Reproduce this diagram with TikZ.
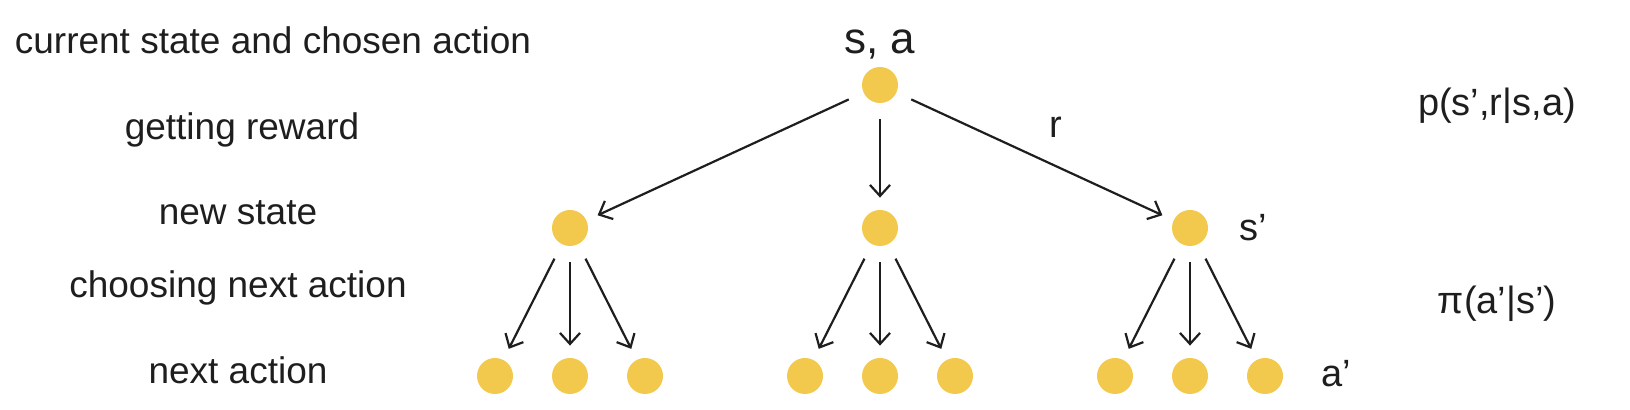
\documentclass[tikz,border=0pt]{standalone}
\usepackage{fontspec}
\setmainfont{Liberation Sans}
\usetikzlibrary{positioning, arrows.meta}
\definecolor{dotfill}{HTML}{F2C94C}
\definecolor{ink}{HTML}{1E1E1E}

\begin{document}
\begin{tikzpicture}[x=0.5pt, y=-0.5pt,
  every node/.style={font=\fontsize{19}{22}\selectfont, text=ink},
  dot/.style={circle, fill=dotfill, minimum size=18pt, inner sep=0pt},
  link/.style={draw=ink, line width=1.1pt, -{Straight Barb[length=5.5pt,width=10pt]}, shorten <=8pt, shorten >=6pt},
  side/.style={font=\fontsize{18.5}{22}\selectfont}]
  \useasboundingbox (0,0) rectangle (1630,410);

  % left column
  \node[side] (lcur) at (273,40) {current state and chosen action};
  \node[side] (lrew) at (242,130) {getting reward};
  \node[side] (lnew) at (238,213) {new state};
  \node[side] (lcho) at (238,288) {choosing next action};
  \node[side] (lnext) at (238,370) {next action};

  % root and first step
  \node[dot] (root) at (880,85) {};
  \node[font=\fontsize{22}{26}\selectfont] (sa) at (880,44) {s,~a};
  \node[dot] (s1) at (570,228) {};
  \node[dot] (s2) at (880,228) {};
  \node[dot] (s3) at (1190,228) {};
  \draw[link] (root) -- (s1);
  \draw[link] (root) -- (s2);
  \draw[link] (root) -- (s3);
  \node (rew) at (1056,127) {r};
  \node (sp) at (1253,228) {s'};

  % next actions
  \foreach \p/\x in {1/570,2/880,3/1190} {
    \foreach \k/\dx in {1/-75,2/0,3/75} {
      \node[dot] (a\p\k) at (\x+\dx,376) {};
      \draw[link] (s\p) -- (a\p\k);
    }
  }
  \node (ap) at (1336,374) {a'};

  % right column
  \node (pdyn) at (1497,106) {p(s',r|s,a)};
  \node (pol) at (1497,304) {π(a'|s')};
\end{tikzpicture}
\end{document}
